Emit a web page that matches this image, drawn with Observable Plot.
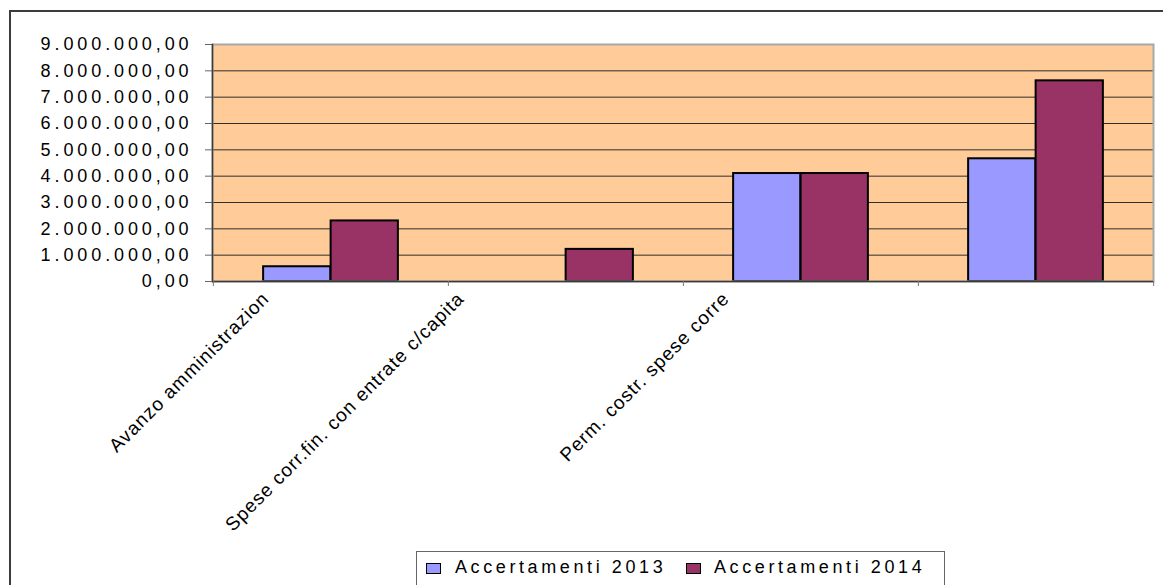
<!DOCTYPE html>
<html>
<head>
<meta charset="utf-8">
<script src="https://cdn.jsdelivr.net/npm/d3@7"></script>
<script src="https://cdn.jsdelivr.net/npm/@observablehq/plot@0.6"></script>
<style>
  body { margin: 0; overflow: hidden; background: #fff; font-family: "Liberation Sans", Arial, sans-serif; }
  #border { position: absolute; left: 9px; top: 10px; width: 1300px; height: 800px; border: 2px solid #3c3c3c; box-sizing: border-box; }
  #chart { position: absolute; left: 0; top: 0; }
  #legend { position: absolute; left: 416px; top: 551px; width: 529px; height: 60px; border: 1px solid #666; box-sizing: border-box; background: #fff; }
  .sw { position: absolute; top: 11px; width: 15px; height: 11px; border: 1.5px solid #000; box-sizing: border-box; }
  .lt { position: absolute; top: 6px; font-size: 18px; line-height: 18px; letter-spacing: 3.6px; color: #000; white-space: nowrap; }
</style>
</head>
<body>
<div id="border"></div>
<div id="chart"></div>
<div id="legend"></div>
<script>
// ---- data ----
const categories = [
  "Avanzo amministrazione",
  "Spese corr.fin. con entrate c/capitale",
  "Perm. costr. spese correnti",
  "Totale"
];
const tickLabels = [
  "Avanzo amministrazion",
  "Spese corr.fin. con entrate c/capita",
  "Perm. costr. spese corre",
  ""
];
const seriesNames = ["Accertamenti 2013", "Accertamenti 2014"];
const values2013 = [560000, 0, 4100000, 4660000];
const values2014 = [2300000, 1220000, 4100000, 7620000];
const yTicks = [0, 1000000, 2000000, 3000000, 4000000, 5000000, 6000000, 7000000, 8000000, 9000000];
const seriesColors = ["#9999FF", "#993366"];

// ---- build ----
const fmt = d3.formatLocale({decimal: ",", thousands: ".", grouping: [3], currency: ["", ""]}).format(",.2f");
const rows13 = categories.map((c, i) => ({cat: c, v: values2013[i]})).filter(d => d.v > 0);
const rows14 = categories.map((c, i) => ({cat: c, v: values2014[i]})).filter(d => d.v > 0);

const W = 1163, H = 545, mL = 212, mR = 10, mT = 44, mB = 264;
const bw = (W - mL - mR) / categories.length;
const barW = 67.5;
const gap = (bw - 2 * barW) / 2;
const labelDx = [-65, -105, -75, 0];

const labelAxes = categories.map((c, i) => Plot.axisX([c], {
  label: null,
  tickSize: 0, tickPadding: 0, tickRotate: -45, textAnchor: "end",
  dx: labelDx[i], dy: 14, fontSize: 19, fill: "#000",
  tickFormat: () => tickLabels[i]
}));

const svg = Plot.plot({
  width: W, height: H,
  marginLeft: mL, marginRight: mR, marginTop: mT, marginBottom: mB,
  style: {fontFamily: "'Liberation Sans', Arial, sans-serif", background: "transparent", overflow: "visible"},
  x: {type: "band", domain: categories, padding: 0, axis: null, label: null},
  y: {domain: [0, 9000000], axis: null, label: null},
  marks: [
    Plot.frame({fill: "#FFCC99"}),
    Plot.ruleY(yTicks, {stroke: "#2e2e2e", strokeWidth: 1}),
    Plot.barY(rows13, {x: "cat", y: "v", fill: seriesColors[0], stroke: "#000", strokeWidth: 2,
      insetLeft: gap, insetRight: gap + barW}),
    Plot.barY(rows14, {x: "cat", y: "v", fill: seriesColors[1], stroke: "#000", strokeWidth: 2,
      insetLeft: gap + barW, insetRight: gap}),
    Plot.frame({stroke: "#a8a8a8", strokeWidth: 2}),
    Plot.ruleY([0], {stroke: "#3a3a3a", strokeWidth: 1.5}),
    Plot.frame({anchor: "left", stroke: "#3a3a3a", strokeWidth: 1.5}),
    Plot.axisY(yTicks, {label: null, tickSize: 7, tickPadding: 13, fontSize: 18, fill: "#000", stroke: "#666",
      tickFormat: fmt}),
    Plot.axisX(categories, {label: null, tickSize: 5, tickFormat: () => "", dx: -bw / 2, stroke: "#777"}),
    Plot.axisX([categories[categories.length - 1]], {label: null, tickSize: 5, tickFormat: () => "", dx: bw / 2, stroke: "#777"}),
    ...labelAxes
  ]
});

svg.querySelectorAll('[aria-label="y-axis tick label"] text').forEach(t => t.style.letterSpacing = "3.9px");
svg.querySelectorAll('[aria-label="x-axis tick label"] text').forEach(t => t.style.letterSpacing = "1px");
document.getElementById("chart").appendChild(svg);

// ---- legend ----
const legend = document.getElementById("legend");
const swX = [9, 269], txX = [38, 297];
seriesNames.forEach((name, i) => {
  const s = document.createElement("div");
  s.className = "sw"; s.style.left = swX[i] + "px"; s.style.background = seriesColors[i];
  legend.appendChild(s);
  const t = document.createElement("div");
  t.className = "lt"; t.style.left = txX[i] + "px"; t.textContent = name;
  legend.appendChild(t);
});
</script>
</body>
</html>
